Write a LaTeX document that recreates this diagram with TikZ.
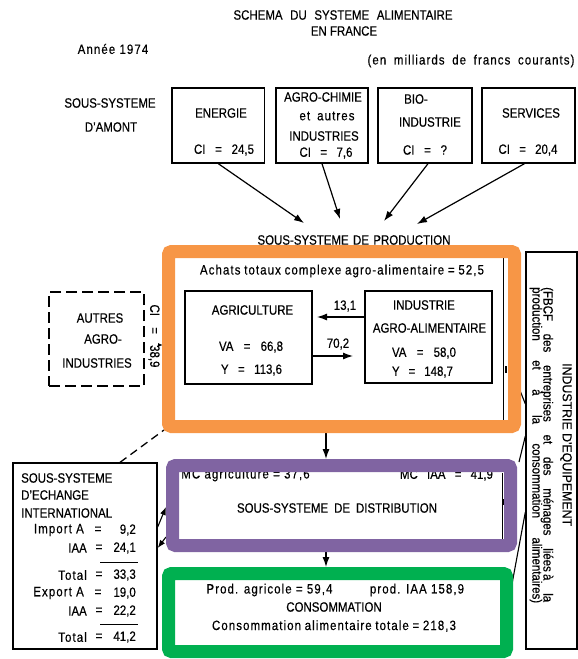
\documentclass[tikz,border=0pt]{standalone}
\usepackage{fontspec}
\setmainfont{Liberation Sans}[FakeStretch=0.85, FakeBold=0.4]
\newfontfamily\lcfont{Liberation Sans}[FakeStretch=0.85, FakeBold=0.4, LetterSpace=8]
\newfontfamily\widefont{Liberation Sans}[FakeStretch=0.95, FakeBold=0.4]
\usetikzlibrary{arrows.meta,calc}
\pgfdeclarelayer{fg}
\pgfsetlayers{main,fg}
\definecolor{orng}{HTML}{F79646}
\definecolor{purp}{HTML}{8064A2}
\definecolor{grn}{HTML}{00B050}
\newcommand{\spr}[2]{\makebox[#1pt][s]{#2}}
\begin{document}
\begin{tikzpicture}[x=1pt,y=-1pt,
  txt/.style={inner sep=0pt, font=\fontsize{13.5}{15}\selectfont},
  thinbox/.style={draw, line width=1.3pt, inner sep=0pt},
  dbox/.style={draw, line width=1.6pt, dash pattern=on 11pt off 5pt, inner sep=0pt},
  band/.style={draw=#1, line width=13pt, rounded corners=3pt, inner sep=0pt},
  arr/.style={line width=1.2pt, -{Latex[length=10pt,width=7pt]}},
  sarr/.style={line width=1.1pt, -{Latex[length=8pt,width=6pt]}},
  conn/.style={line width=1.1pt},
  dconn/.style={line width=1.3pt, dash pattern=on 8pt off 5pt},
  rule/.style={line width=1pt}
]
\useasboundingbox (0,0) rectangle (578,659);

% coloured overlay bands
\begin{pgfonlayer}{fg}
\node[band=orng, minimum width=346pt, minimum height=175pt] (prod) at (341.5,339) {};
\node[band=purp, minimum width=338pt, minimum height=80pt] (dist) at (341.5,505.5) {};
\node[band=grn, minimum width=338pt, minimum height=78pt] (cons) at (337.5,612.5) {};
\end{pgfonlayer}

% title
\node[txt] (t1) at (343,15) {\spr{219}{SCHEMA DU SYSTEME ALIMENTAIRE}};
\node[txt] (t2) at (344,31) {EN FRANCE};
\node[txt] (annee) at (113,49) {\lcfont Année 1974};
\node[txt] (unit) at (471,61) {\lcfont\spr{207}{(en milliards de francs courants)}};

% amont
\node[txt] (amont1) at (110,103) {SOUS-SYSTEME};
\node[txt] (amont2) at (111,127) {D'AMONT};

\node[thinbox, minimum width=92.5pt, minimum height=75pt] (energie) at (218.25,125.5) {};
\node[thinbox, minimum width=92pt, minimum height=75pt] (agro) at (322,125.5) {};
\node[thinbox, minimum width=94pt, minimum height=75pt] (bio) at (425,125.5) {};
\node[thinbox, minimum width=93pt, minimum height=75pt] (serv) at (528.5,125.5) {};

\node[txt] (energieT) at (221,113) {ENERGIE};
\node[txt] (energieC) at (224,150) {\spr{60}{CI = 24,5}};
\node[txt] (agroT1) at (323,97) {AGRO-CHIMIE};
\node[txt] (agroT2) at (327,116) {\lcfont\spr{55}{et autres}};
\node[txt] (agroT3) at (324,136) {INDUSTRIES};
\node[txt] (agroC) at (326,153) {\spr{53}{CI = 7,6}};
\node[txt] (bioT1) at (416,99) {BIO-};
\node[txt] (bioT2) at (430,122) {INDUSTRIE};
\node[txt] (bioC) at (425,150) {\spr{44}{CI = ?}};
\node[txt] (servT) at (531,113) {SERVICES};
\node[txt] (servC) at (528,150) {\spr{59}{CI = 20,4}};

\coordinate (in1) at (304,223);
\coordinate (in2) at (340,219);
\coordinate (in3) at (384,221);
\coordinate (in4) at (417,224);
\draw[arr] (energie.south) -- (in1);
\draw[arr] (agro.south) -- (in2);
\draw[arr] ($(bio.south)+(3,0)$) -- (in3);
\draw[arr] ($(serv.south)+(-4,0)$) -- (in4);

% production
\node[txt] (prodlab) at (354,240) {\spr{193}{SOUS-SYSTEME DE PRODUCTION}};
\node[txt] (achats) at (342,271) {\lcfont\spr{284}{Achats totaux complexe agro-alimentaire = 52,5}};
\draw[line width=1pt] (503,258) -- (503,422);
\draw[line width=2.5pt] (506,366) -- (506,373);

\node[thinbox, minimum width=127pt, minimum height=93pt] (agri) at (248.5,337.5) {};
\node[txt] (agriT) at (252.5,310) {AGRICULTURE};
\node[txt] (agriVA) at (251,347) {\spr{64}{VA = 66,8}};
\node[txt] (agriY) at (251.5,370) {\spr{61}{Y = 113,6}};

\node[thinbox, minimum width=127pt, minimum height=92pt] (iaa) at (428.5,337) {};
\node[txt] (iaaT1) at (424,305) {INDUSTRIE};
\node[txt] (iaaT2) at (429.5,328) {AGRO-ALIMENTAIRE};
\node[txt] (iaaVA) at (424,353) {\spr{64}{VA = 58,0}};
\node[txt] (iaaY) at (422.5,372) {\spr{61}{Y = 148,7}};

\coordinate (t131) at (317,317);
\coordinate (t702) at (353,356);
\draw[arr] (iaa.west |- t131) -- (t131);
\draw[arr] (agri.east |- t702) -- (t702);
\node[txt] (l131) at (345,306) {13,1};
\node[txt] (l702) at (338,344) {70,2};

% autres agro-industries
\node[dbox, minimum width=95pt, minimum height=94pt] (autres) at (96.5,339) {};
\node[txt] (autresT1) at (100,318) {AUTRES};
\node[txt] (autresT2) at (103,339) {AGRO-};
\node[txt] (autresT3) at (97,363) {INDUSTRIES};
\node[txt, rotate=-90] (ci389) at (154,336) {\spr{63}{CI = 38,9}};
\coordinate (ciTip) at (163,345);
\draw[line width=1pt, -{Latex[length=5pt,width=4pt]}] ($(ciTip)+(-4,0)$) -- (ciTip);

% distribution
\node[txt] (mcagri) at (245.5,475) {\lcfont MC agriculture = 37,6};
\node[txt] (mciaa) at (446.5,475) {\spr{93}{MC IAA = 41,9}};
\node[txt] (distlab) at (337,508) {\spr{200}{SOUS-SYSTEME DE DISTRIBUTION}};
\draw[line width=1pt] (502.5,473) -- (502.5,539);
\draw[line width=2.5pt] (503,499) -- (503,505);

% consommation
\node[txt] (prodA) at (269.5,590) {\lcfont Prod. agricole = 59,4};
\node[txt] (prodI) at (417,590) {\lcfont prod. IAA 158,9};
\node[txt] (consT) at (334,607) {CONSOMMATION};
\node[txt] (consTot) at (334,626) {\lcfont\spr{244}{Consommation alimentaire totale = 218,3}};

\coordinate (xa) at (326,0);
\draw[arr] (prod.south -| xa) -- (dist.north -| xa);
\draw[arr] (dist.south -| xa) -- (cons.north -| xa);

% international
\node[thinbox, minimum width=144pt, minimum height=186pt] (intl) at (85,556) {};
\node[txt, anchor=west] (i1) at (21,478) {SOUS-SYSTEME};
\node[txt, anchor=west] (i2) at (21,495) {D'ECHANGE};
\node[txt, anchor=west] (i3) at (21,513) {INTERNATIONAL};
\node[txt, anchor=east] (r1a) at (84,530) {\lcfont Import A};
\node[txt] (r1b) at (98,530) {=};
\node[txt, anchor=east] (r1c) at (136,530) {9,2};
\node[txt, anchor=east] (r2a) at (87,548) {IAA};
\node[txt] (r2b) at (99,548) {=};
\node[txt, anchor=east] (r2c) at (136,548) {24,1};
\draw[rule] (100,562) -- (138,562);
\node[txt, anchor=east] (r3a) at (87,575) {\lcfont Total};
\node[txt] (r3b) at (99,575) {=};
\node[txt, anchor=east] (r3c) at (136,575) {33,3};
\node[txt, anchor=east] (r4a) at (84,593) {\lcfont Export A};
\node[txt] (r4b) at (98,593) {=};
\node[txt, anchor=east] (r4c) at (136,593) {19,0};
\node[txt, anchor=east] (r5a) at (87,611) {IAA};
\node[txt] (r5b) at (99,611) {=};
\node[txt, anchor=east] (r5c) at (136,611) {22,2};
\draw[rule] (100,624) -- (138,624);
\node[txt, anchor=east] (r6a) at (87,637) {\lcfont Total};
\node[txt] (r6b) at (99,637) {=};
\node[txt, anchor=east] (r6c) at (136,637) {41,2};

\coordinate (dA) at (120,0);
\coordinate (orc) at (164,430);
\draw[dconn] (intl.north -| dA) -- (orc);

\coordinate (ya1) at (0,527);
\coordinate (yb1) at (0,507);
\coordinate (ya2) at (0,537);
\coordinate (yb2) at (0,548);
\draw[sarr] (intl.east |- ya1) -- (dist.west |- yb1);
\draw[sarr] (dist.west |- ya2) -- (intl.east |- yb2);

% industrie d'equipement
\node[thinbox, minimum width=51pt, minimum height=397pt] (equip) at (551.5,450.5) {};
\node[txt, rotate=-90, anchor=west] (eq1) at (566,363) {\fontsize{13}{15}\widefont INDUSTRIE D'EQUIPEMENT};
\node[txt, rotate=-90, anchor=west] (eq2) at (547,287) {\spr{315}{(FBCF des entreprises et des ménages liées\,à la}};
\node[txt, rotate=-90, anchor=west] (eq3) at (536,287) {\spr{316}{production et à la consommation alimentaires)}};

\coordinate (y1) at (0,404);
\coordinate (o1) at (519,388);
\coordinate (y2) at (0,436);
\coordinate (o2) at (519,462);
\coordinate (y3) at (0,512);
\coordinate (o3) at (512,584);
\draw[conn] (equip.west |- y1) -- (o1);
\draw[conn] (equip.west |- y2) -- (o2);
\draw[conn] (equip.west |- y3) -- (o3);
\end{tikzpicture}
\end{document}
